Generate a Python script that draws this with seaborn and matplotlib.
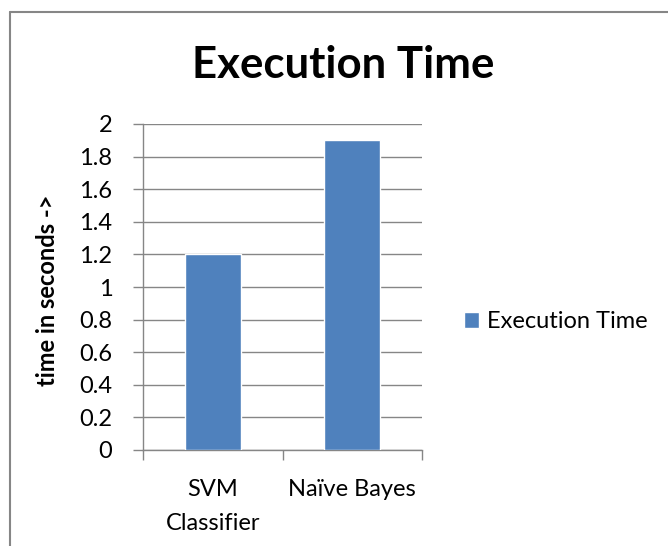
import matplotlib
matplotlib.use("Agg")
import matplotlib.pyplot as plt
from matplotlib.lines import Line2D
import seaborn as sns
import pandas as pd

categories = ["SVM\nClassifier", "Naïve Bayes"]
exec_time = [1.2, 1.9]
yticks = [0, 0.2, 0.4, 0.6, 0.8, 1, 1.2, 1.4, 1.6, 1.8, 2]
ytick_labels = ["0", "0.2", "0.4", "0.6", "0.8", "1", "1.2", "1.4", "1.6", "1.8", "2"]
series_name = "Execution Time"

sns.set_style("white")
plt.rcParams['font.family'] = ['Lato', 'DejaVu Sans']
plt.rcParams['text.color'] = 'black'
plt.rcParams['xtick.color'] = 'black'
plt.rcParams['ytick.color'] = 'black'
plt.rcParams['axes.labelcolor'] = 'black'

df = pd.DataFrame({"cat": categories, "val": exec_time, "series": series_name})

fig = plt.figure(figsize=(6.68, 5.46), dpi=100)
ax = fig.add_axes([143/668, 1-450/546, (422-143)/668, (450-124)/546])

grid_c = "#868686"
bar_c = "#4F81BD"
sns.barplot(data=df, x="cat", y="val", hue="series", palette=[bar_c],
            width=0.4, ax=ax, saturation=1, legend=True, zorder=3)

FS = 17
ax.set_ylim(0, 2)
ax.set_xlim(-0.5, 1.5)
ax.set_yticks(yticks)
ax.set_yticklabels(ytick_labels, fontsize=FS)
ax.yaxis.grid(True, color=grid_c, linewidth=1, zorder=0)
ax.set_axisbelow(True)
ax.tick_params(axis='y', length=7, color=grid_c, width=1, pad=15, direction='out', left=True)
ax.set_xticks([0, 1])
ax.set_xticklabels(categories, fontsize=FS)
ax.set_xticks([-0.5, 0.5, 1.5], minor=True)
ax.tick_params(axis='x', which='major', length=0, pad=21)
ax.tick_params(axis='x', which='minor', length=7, color=grid_c, width=1, direction='out', bottom=True)
for s in ["top", "right"]:
    ax.spines[s].set_visible(False)
for s in ["left", "bottom"]:
    ax.spines[s].set_color(grid_c)
    ax.spines[s].set_linewidth(1)
ax.set_xlabel("")
ax.set_ylabel("time in seconds ->", fontsize=FS, fontweight="bold")
ax.yaxis.set_label_coords(59/668, 1-290/546, transform=fig.transFigure)

for lab in ax.get_xticklabels():
    lab.set_linespacing(1.75)

fig.text(343/668, 1-65/546, "Execution Time", fontsize=31.5, fontweight="bold",
         ha="center", va="center", color="black")

leg = ax.legend(loc="center left", bbox_to_anchor=(464/668, 1-322/546),
                bbox_transform=fig.transFigure, frameon=False, fontsize=FS,
                borderaxespad=0, borderpad=0,
                handlelength=0.63, handleheight=0.63, handletextpad=0.33)

fig.add_artist(Line2D([10/668, 10/668], [0, 1-12/546], transform=fig.transFigure,
                      color=grid_c, linewidth=1.5))
fig.add_artist(Line2D([10/668, 1], [1-12/546, 1-12/546], transform=fig.transFigure,
                      color=grid_c, linewidth=1.5))

fig.savefig("out.png", dpi=100)
